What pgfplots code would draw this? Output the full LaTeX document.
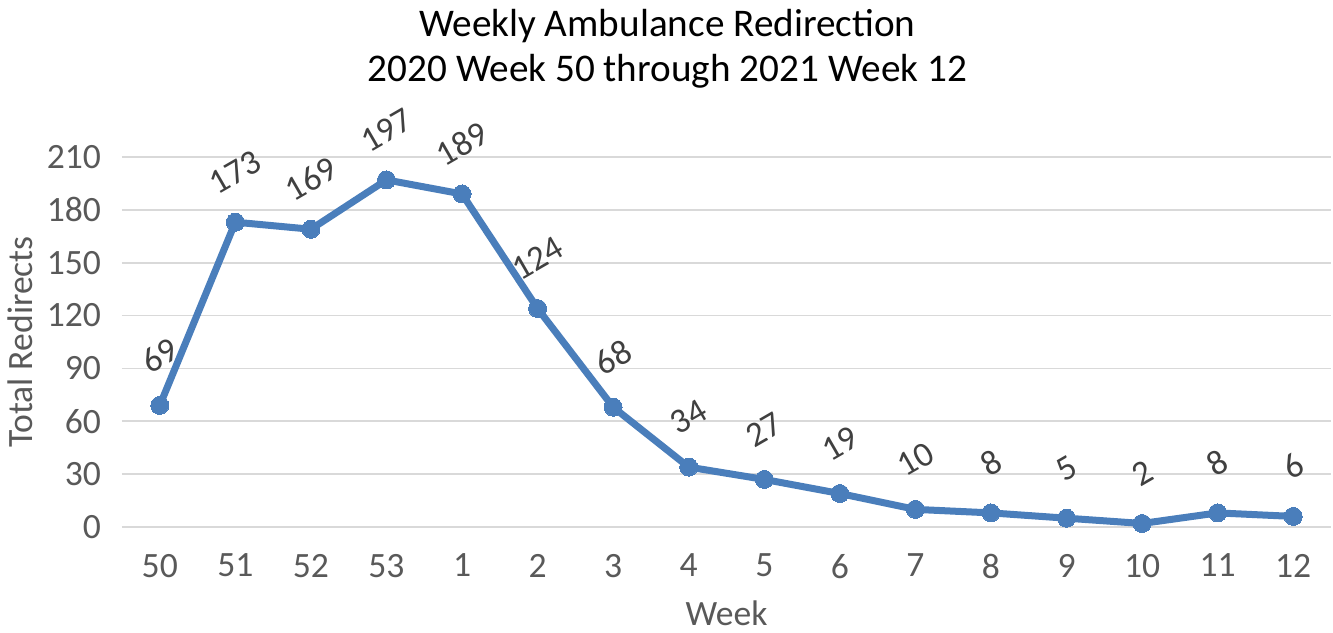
\documentclass[border=0pt]{standalone}
\usepackage{fontspec}
\setmainfont{Carlito}
\usepackage{pgfplots}
\pgfplotsset{compat=1.18}
\definecolor{lineblue}{HTML}{4A7EBB}
\definecolor{tickgray}{HTML}{595959}
\definecolor{gridgray}{HTML}{D9D9D9}
\definecolor{labgray}{HTML}{404040}
\begin{document}
\begin{tikzpicture}
\begin{axis}[
  scale only axis,
  width=604.5pt, height=185pt,
  xmin=-0.5, xmax=15.5,
  ymin=0, ymax=210,
  xtick={0,...,15},
  xticklabels={50,51,52,53,1,2,3,4,5,6,7,8,9,10,11,12},
  ytick={0,30,...,210},
  ymajorgrids,
  grid style={gridgray, line width=0.9pt},
  axis line style={draw=none},
  tick style={draw=none},
  clip=false,
  /pgf/number format/assume math mode=true,
  tick label style={font=\fontsize{17.8}{20}\selectfont, text=tickgray},
  xticklabel style={yshift=-10pt},
  yticklabel style={xshift=-7pt},
  xlabel={Week},
  ylabel={Total Redirects},
  label style={font=\fontsize{17.8}{20}\selectfont, text=tickgray},
  xlabel style={yshift=-4pt},
  ylabel style={yshift=0pt},
  title={Weekly Ambulance Redirection\\2020 Week 50 through 2021 Week 12},
  title style={font=\fontsize{19.6}{22.5}\selectfont, align=center, at={(0.451,1)}, anchor=south, yshift=25pt},
  nodes near coords,
  every node near coord/.append style={font=\fontsize{17.5}{20}\selectfont, text=labgray, anchor=center, yshift=25pt, rotate=30},
]
\addplot[lineblue, line width=3.5pt, mark=*, mark size=4.5pt, mark options={fill=lineblue, draw=lineblue, line width=0pt}] coordinates {
(0,69) (1,173) (2,169) (3,197) (4,189) (5,124) (6,68) (7,34)
(8,27) (9,19) (10,10) (11,8) (12,5) (13,2) (14,8) (15,6)
};
\path (rel axis cs:0,0) ++(-61pt,-50.5pt) coordinate (bbsw);
\path (rel axis cs:1,1) ++(1pt,78.5pt) coordinate (bbne);
\path (bbsw) rectangle (bbne);
\end{axis}
\end{tikzpicture}
\end{document}
